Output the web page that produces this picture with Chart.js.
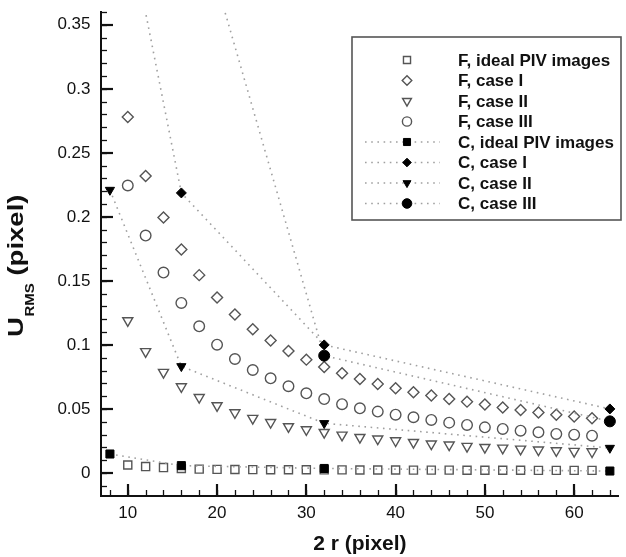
<!DOCTYPE html>
<html>
<head>
<meta charset="utf-8">
<script src="https://cdn.jsdelivr.net/npm/chart.js@4.4.1/dist/chart.umd.min.js"></script>
<style>
  html, body { margin: 0; padding: 0; background: #fff; }
  #wrap { width: 626px; height: 557px; }
</style>
</head>
<body>
<div id="wrap"><canvas id="urmsChart"></canvas></div>
<script>
// interrogation window size 2r (pixel)
const fDiameters = [10, 12, 14, 16, 18, 20, 22, 24, 26, 28, 30, 32, 34, 36, 38, 40,
                    42, 44, 46, 48, 50, 52, 54, 56, 58, 60, 62];
const cDiameters = [8, 16, 32, 64];

// F series (hollow markers)
const fIdeal = [0.0062, 0.005, 0.0042, 0.0035, 0.003, 0.0028, 0.0027, 0.0026, 0.0025, 0.0025,
                0.0025, 0.0024, 0.0024, 0.0023, 0.0023, 0.0023, 0.0022, 0.0022, 0.0022, 0.0021,
                0.0021, 0.0021, 0.0021, 0.002, 0.002, 0.002, 0.002];
const fCase1 = [0.278, 0.232, 0.1995, 0.1745, 0.1545, 0.137, 0.1237, 0.1122, 0.1034, 0.0953,
                0.0885, 0.0828, 0.0778, 0.0734, 0.0695, 0.0661, 0.063, 0.0604, 0.0578, 0.0557,
                0.0534, 0.0512, 0.0492, 0.0472, 0.0455, 0.044, 0.0427];
const fCase2 = [0.119, 0.0948, 0.0786, 0.0674, 0.059, 0.0526, 0.0471, 0.0427, 0.0395, 0.0362,
                0.0338, 0.0317, 0.0296, 0.0278, 0.0266, 0.0252, 0.0239, 0.0227, 0.0219, 0.0208,
                0.02, 0.0195, 0.0187, 0.018, 0.0174, 0.0169, 0.0166];
const fCase3 = [0.2245, 0.1854, 0.1565, 0.1328, 0.1145, 0.1002, 0.089, 0.0804, 0.0739, 0.0677,
                0.0622, 0.0577, 0.0537, 0.0505, 0.0479, 0.0455, 0.0435, 0.0414, 0.0393, 0.0375,
                0.0356, 0.0344, 0.033, 0.0317, 0.0305, 0.0299, 0.0291];

// C series (filled markers, dotted lines)
const cIdeal = [0.0148, 0.0057, 0.0035, 0.0015];
const cCase1 = [0.5, 0.2187, 0.1, 0.05];
const cCase2 = [0.221, 0.0833, 0.0388, 0.0195];
const cCase3 = [0.8, 0.478, 0.0916, 0.0403];

const labels = ['F, ideal PIV images', 'F, case I', 'F, case II', 'F, case III',
                'C, ideal PIV images', 'C, case I', 'C, case II', 'C, case III'];

const FONT = '"Liberation Sans", Arial, Helvetica, sans-serif';

function fSet(label, values, style, radius, rotation) {
    return {
        label: label,
        data: fDiameters.map((d, i) => ({ x: d, y: values[i] })),
        showLine: false,
        pointStyle: style,
        pointRadius: radius,
        pointHoverRadius: radius,
        pointRotation: rotation || 0,
        pointBorderColor: '#555',
        pointBackgroundColor: '#fff',
        pointBorderWidth: 1.4,
        order: 2
    };
}

function cSet(label, values, style, radius, rotation) {
    return {
        label: label,
        data: cDiameters.map((d, i) => ({ x: d, y: values[i] })),
        showLine: true,
        borderColor: '#a0a0a0',
        borderWidth: 1.6,
        borderDash: [1.6, 4.6],
        tension: 0,
        pointStyle: style,
        pointRadius: radius,
        pointHoverRadius: radius,
        pointRotation: rotation || 0,
        pointBorderColor: '#000',
        pointBackgroundColor: '#000',
        pointBorderWidth: 1,
        order: 1
    };
}

// small marker drawer for the legend box
function drawMarker(ctx, ds, x, y, r) {
    ctx.beginPath();
    if (ds.pointStyle === 'rect') {
        const s = r * Math.SQRT1_2;
        ctx.rect(x - s, y - s, 2 * s, 2 * s);
    } else if (ds.pointStyle === 'rectRot') {
        ctx.moveTo(x - r, y); ctx.lineTo(x, y - r); ctx.lineTo(x + r, y); ctx.lineTo(x, y + r);
        ctx.closePath();
    } else if (ds.pointStyle === 'triangle') {
        let a = (ds.pointRotation || 0) * Math.PI / 180;
        ctx.moveTo(x + Math.sin(a) * r, y - Math.cos(a) * r);
        a += 2 * Math.PI / 3;
        ctx.lineTo(x + Math.sin(a) * r, y - Math.cos(a) * r);
        a += 2 * Math.PI / 3;
        ctx.lineTo(x + Math.sin(a) * r, y - Math.cos(a) * r);
        ctx.closePath();
    } else {
        ctx.arc(x, y, r, 0, Math.PI * 2);
    }
    ctx.fillStyle = ds.pointBackgroundColor;
    ctx.strokeStyle = ds.pointBorderColor;
    ctx.lineWidth = ds.pointBorderWidth;
    ctx.setLineDash([]);
    ctx.fill();
    ctx.stroke();
}

const boxLegend = {
    id: 'boxLegend',
    afterDraw(chart) {
        const ctx = chart.ctx;
        ctx.save();
        ctx.fillStyle = '#fff';
        ctx.fillRect(352, 37, 269, 183);
        ctx.strokeStyle = '#555';
        ctx.lineWidth = 1.6;
        ctx.strokeRect(352, 37, 269, 183);
        chart.data.datasets.forEach((ds, i) => {
            const y = 60 + i * 20.5;
            if (ds.showLine) {
                ctx.beginPath();
                ctx.setLineDash(ds.borderDash);
                ctx.strokeStyle = ds.borderColor;
                ctx.lineWidth = ds.borderWidth;
                ctx.moveTo(365, y);
                ctx.lineTo(440, y);
                ctx.stroke();
            }
            drawMarker(ctx, ds, 407, y, ds.pointRadius - 0.7);
            ctx.fillStyle = '#111';
            ctx.font = 'bold 17px ' + FONT;
            ctx.textAlign = 'left';
            ctx.textBaseline = 'middle';
            ctx.fillText(ds.label, 458, y + 1);
        });
        ctx.restore();
    }
};

// inward major/minor ticks as in the original plot
const xMinorStep = 2;
const yMinorStep = 0.01;
const innerTicks = {
    id: 'innerTicks',
    afterDatasetsDraw(chart) {
        const { ctx, chartArea: a, scales: { x, y } } = chart;
        ctx.save();
        ctx.strokeStyle = '#111';
        ctx.setLineDash([]);
        ctx.lineWidth = 1.3;
        for (let v = Math.ceil(x.min / xMinorStep) * xMinorStep; v <= x.max; v += xMinorStep) {
            const px = Math.round(x.getPixelForValue(v)) + 0.5;
            ctx.beginPath(); ctx.moveTo(px, a.bottom); ctx.lineTo(px, a.bottom - 6); ctx.stroke();
        }
        for (let k = Math.ceil(y.min / yMinorStep); k * yMinorStep <= y.max + 1e-9; k++) {
            const py = Math.round(y.getPixelForValue(k * yMinorStep)) + 0.5;
            ctx.beginPath(); ctx.moveTo(a.left, py); ctx.lineTo(a.left + 6, py); ctx.stroke();
        }
        ctx.lineWidth = 2.2;
        x.ticks.forEach(t => {
            const px = Math.round(x.getPixelForValue(t.value));
            ctx.beginPath(); ctx.moveTo(px, a.bottom); ctx.lineTo(px, a.bottom - 12); ctx.stroke();
        });
        y.ticks.forEach(t => {
            const py = Math.round(y.getPixelForValue(t.value));
            ctx.beginPath(); ctx.moveTo(a.left, py); ctx.lineTo(a.left + 12, py); ctx.stroke();
        });
        ctx.restore();
    }
};

// y title with subscript: U_RMS (pixel)
const yTitle = {
    id: 'yTitle',
    afterDraw(chart) {
        const ctx = chart.ctx;
        ctx.save();
        ctx.translate(23, 337);
        ctx.rotate(-Math.PI / 2);
        ctx.scale(1.25, 1);
        ctx.fillStyle = '#111';
        ctx.textAlign = 'left';
        ctx.textBaseline = 'alphabetic';
        ctx.font = 'bold 22px ' + FONT;
        ctx.fillText('U', 0, 0);
        let w = ctx.measureText('U').width + 0.5;
        ctx.font = 'bold 12px ' + FONT;
        ctx.fillText('RMS', w, 11);
        w += ctx.measureText('RMS').width;
        ctx.font = 'bold 22px ' + FONT;
        ctx.fillText(' (pixel)', w, 0);
        ctx.restore();
    }
};

new Chart(document.getElementById('urmsChart'), {
    type: 'scatter',
    data: {
        datasets: [
            fSet(labels[0], fIdeal, 'rect', 5.7),
            fSet(labels[1], fCase1, 'rectRot', 5.5),
            fSet(labels[2], fCase2, 'triangle', 5.8, 180),
            fSet(labels[3], fCase3, 'circle', 5.3),
            cSet(labels[4], cIdeal, 'rect', 5.7),
            cSet(labels[5], cCase1, 'rectRot', 5),
            cSet(labels[6], cCase2, 'triangle', 5.3, 180),
            cSet(labels[7], cCase3, 'circle', 5.5)
        ]
    },
    options: {
        responsive: true,
        maintainAspectRatio: false,
        animation: false,
        layout: { padding: { top: 12, right: 0, left: 0, bottom: 0 } },
        plugins: {
            legend: { display: false },
            tooltip: { enabled: false }
        },
        scales: {
            x: {
                type: 'linear',
                min: 7,
                max: 65,
                grid: { display: false, drawTicks: false },
                border: { display: true, color: '#111', width: 2 },
                ticks: {
                    stepSize: 10,
                    includeBounds: false,
                    padding: 7,
                    color: '#111',
                    font: { family: FONT, size: 17 }
                },
                title: {
                    display: true,
                    text: '2 r (pixel)',
                    color: '#111',
                    font: { family: FONT, size: 21, weight: 'bold' },
                    padding: { top: 0, bottom: 0 }
                },
                afterFit: s => { s.height = 61; s.paddingLeft = 0; s.paddingRight = 0; }
            },
            y: {
                type: 'linear',
                min: -0.018,
                max: 0.36,
                grid: { display: false, drawTicks: false },
                border: { display: true, color: '#111', width: 2 },
                ticks: {
                    stepSize: 0.05,
                    includeBounds: false,
                    padding: 10.5,
                    color: '#111',
                    font: { family: FONT, size: 17 },
                    callback: v => String(Number(v.toFixed(2)))
                },
                afterFit: s => { s.width = 101; s.paddingTop = 0; s.paddingBottom = 0; }
            }
        }
    },
    plugins: [innerTicks, boxLegend, yTitle]
});
</script>
</body>
</html>
